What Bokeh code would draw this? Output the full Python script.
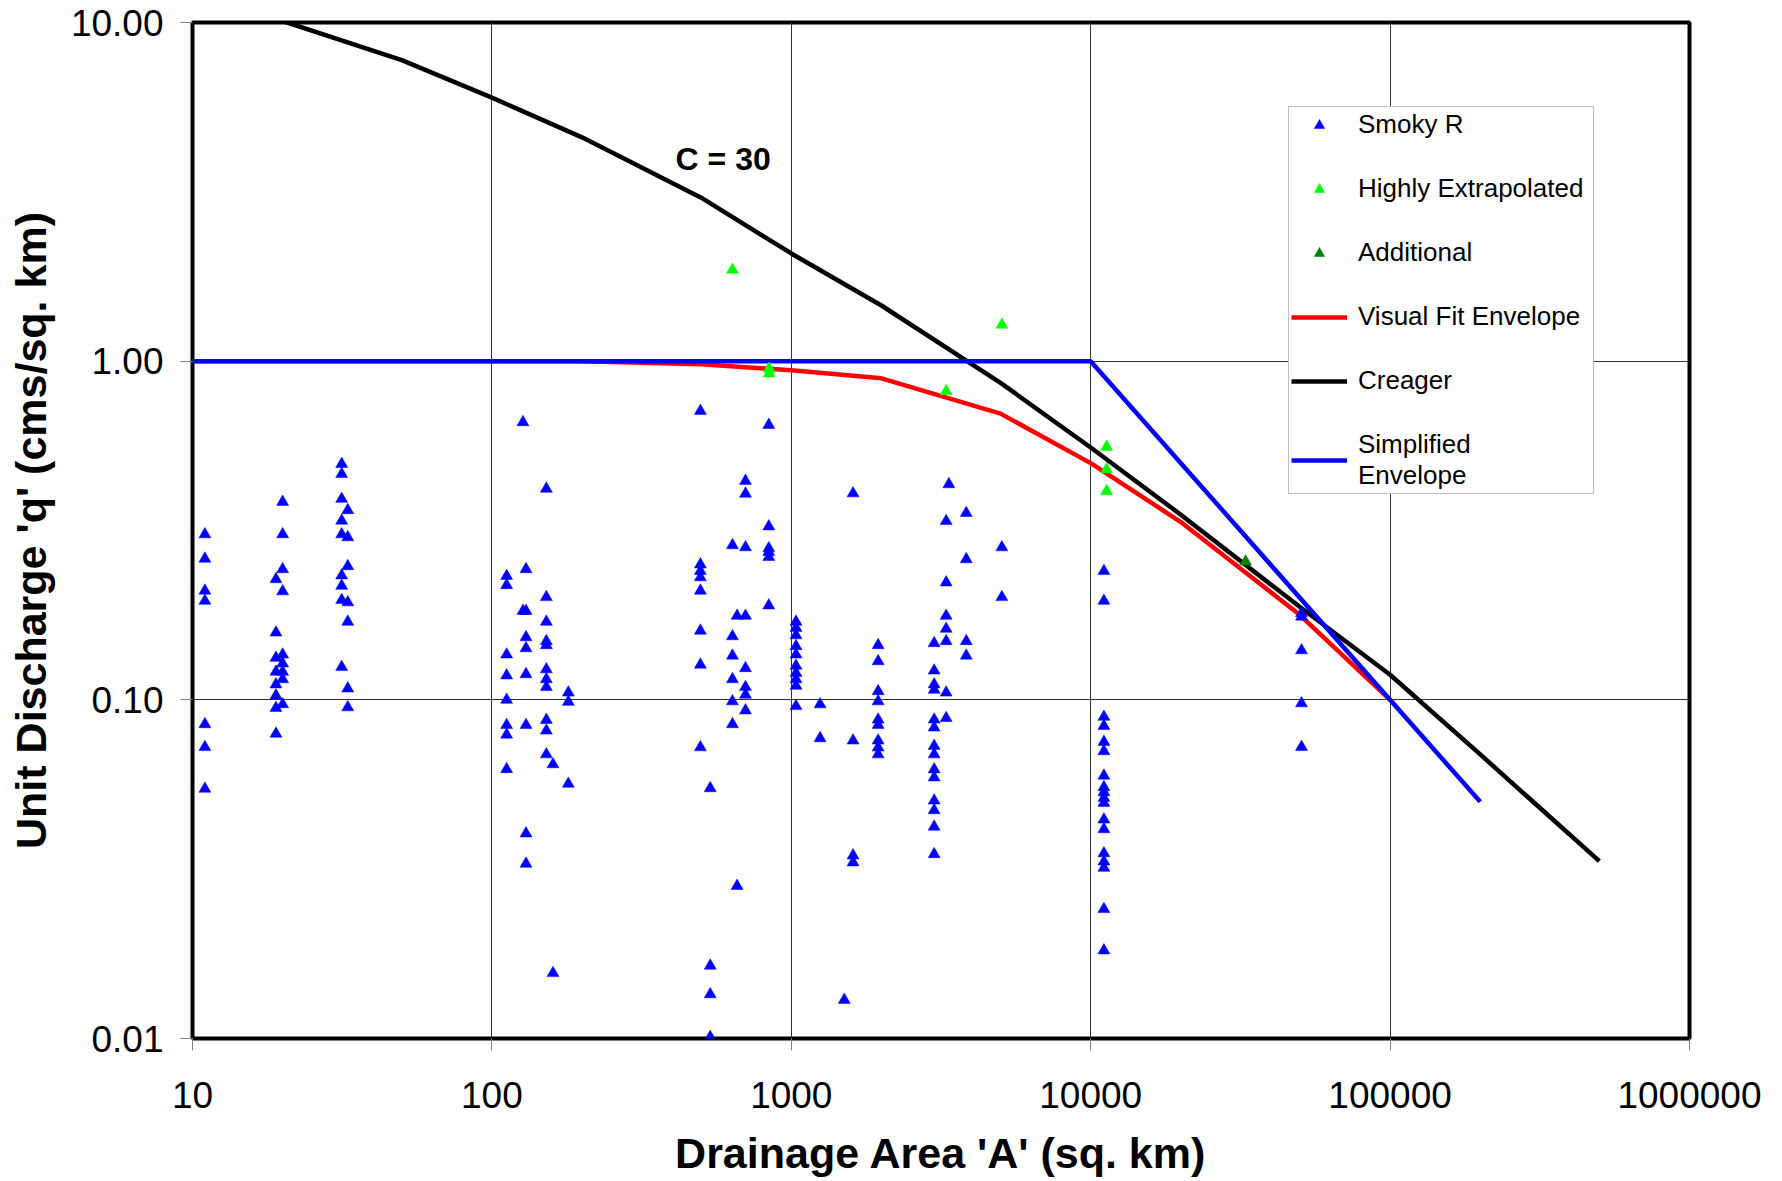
from bokeh.plotting import figure
from bokeh.models import Range1d, FixedTicker, PrintfTickFormatter, Legend, LegendItem, Label
from bokeh.embed import file_html
from bokeh.resources import INLINE

# ---------------- data ----------------
smoky_area = ([11] * 7 + [19] * 8 + [20] * 9 + [31.5] * 9 + [33] * 7 +
              [112] * 8 + [127] * 2 + [130] * 8 + [152] * 11 + [160] * 2 + [180] * 3 +
              [497] * 8 + [536] * 4 + [636] * 6 + [659] * 2 + [703] * 8 + [841] * 6 +
              [1037] * 10 + [1248] * 2 + [1503] * 1 + [1608] * 4 + [1950] * 9 +
              [3000] * 14 + [3290] * 7 + [3360] * 1 + [3840] * 4 + [5050] * 2 +
              [11070] * 18 + [50600] * 5)
smoky_q = [0.308, 0.261, 0.210, 0.196, 0.0847, 0.0725, 0.0546,
           0.227, 0.158, 0.133, 0.121, 0.111, 0.103, 0.0946, 0.0794,
           0.384, 0.308, 0.243, 0.209, 0.136, 0.128, 0.121, 0.115, 0.097,
           0.497, 0.464, 0.392, 0.338, 0.308, 0.233, 0.217, 0.197, 0.125,
           0.363, 0.302, 0.248, 0.194, 0.170, 0.108, 0.095,
           0.232, 0.218, 0.136, 0.118, 0.100, 0.0842, 0.0789, 0.0624,
           0.66, 0.183,
           0.243, 0.183, 0.153, 0.142, 0.119, 0.0842, 0.0403, 0.0328,
           0.42, 0.201, 0.170, 0.149, 0.145, 0.123, 0.115, 0.109, 0.0872, 0.0811, 0.069,
           0.0645, 0.0156,
           0.105, 0.0986, 0.0565,
           0.713, 0.251, 0.240, 0.230, 0.210, 0.160, 0.127, 0.0724,
           0.0548, 0.0164, 0.0135, 0.0101,
           0.286, 0.154, 0.135, 0.115, 0.099, 0.0847,
           0.177, 0.0282,
           0.443, 0.406, 0.282, 0.177, 0.124, 0.109, 0.1035, 0.093,
           0.648, 0.325, 0.280, 0.273, 0.264, 0.190,
           0.170, 0.163, 0.155, 0.144, 0.136, 0.126, 0.120, 0.115, 0.110, 0.0958,
           0.097, 0.077,
           0.0130,
           0.407, 0.0758, 0.0347, 0.0331,
           0.145, 0.130, 0.106, 0.099, 0.0874, 0.0843, 0.0758, 0.0723, 0.069,
           0.147, 0.122, 0.111, 0.107, 0.0874, 0.0828, 0.0731, 0.069, 0.0623, 0.059,
           0.0504, 0.0472, 0.0422, 0.035,
           0.337, 0.222, 0.177, 0.162, 0.149, 0.105, 0.0883,
           0.433,
           0.356, 0.260, 0.149, 0.135,
           0.282, 0.201,
           0.240, 0.196, 0.0891, 0.0837, 0.0751, 0.0705, 0.0597, 0.0552, 0.0533,
           0.0513, 0.0496, 0.0443, 0.0415, 0.0352, 0.0333, 0.0319, 0.0241, 0.0182,
           0.180, 0.176, 0.140, 0.0976, 0.0726]

extrap_area = [636, 843, 843, 3290, 5050, 11300, 11300, 11300]
extrap_q = [1.86, 0.95, 0.92, 0.815, 1.28, 0.558, 0.479, 0.413]

additional_area = [32900]
additional_q = [0.256]

visual_area = [10, 100, 200, 500, 1000, 2000, 5000, 10000, 20000, 50000, 100000]
visual_q = [1.0, 1.0, 1.0, 0.98, 0.94, 0.89, 0.70, 0.50, 0.335, 0.178, 0.10]

creager_area = [20, 50, 100, 200, 500, 1000, 2000, 5000, 10000, 20000, 50000,
                100000, 200000, 500000]
creager_q = [10.1, 7.74, 6.0, 4.58, 3.04, 2.08, 1.46, 0.863, 0.556, 0.352, 0.188,
             0.1186, 0.069, 0.0334]

simple_area = [10, 10000, 200000]
simple_q = [1.0, 1.0, 0.05]

x_ticks = [10, 100, 1000, 10000, 100000, 1000000]
y_ticks = [0.01, 0.1, 1, 10]

FONT = "Liberation Sans"

p = figure(width=1766, height=1179, x_axis_type="log", y_axis_type="log",
           x_range=Range1d(10, 1e6), y_range=Range1d(0.01, 10),
           output_backend="svg", toolbar_location=None,
           min_border_left=192, min_border_right=77, min_border_top=22,
           min_border_bottom=141, background_fill_color="white",
           border_fill_color="white")

p.outline_line_color = "black"
p.outline_line_width = 4

for ax in (p.xaxis[0], p.yaxis[0]):
    ax.axis_line_color = None
    ax.major_tick_line_color = "#808080"
    ax.major_tick_out = 12
    ax.major_tick_in = 0
    ax.minor_tick_line_color = None
    ax.major_label_text_font = FONT
    ax.major_label_text_font_size = "37px"
    ax.major_label_text_color = "black"
    ax.axis_label_text_font = FONT
    ax.axis_label_text_font_size = "43px"
    ax.axis_label_text_font_style = "bold"
    ax.axis_label_text_color = "black"

p.xaxis.ticker = FixedTicker(ticks=x_ticks)
p.yaxis.ticker = FixedTicker(ticks=y_ticks)
p.xaxis.formatter = PrintfTickFormatter(format="%d")
p.yaxis.formatter = PrintfTickFormatter(format="%.2f")
p.xaxis.major_label_standoff = 31
p.yaxis.major_label_standoff = 17
p.xaxis.axis_label = "Drainage Area 'A' (sq. km)"
p.yaxis.axis_label = "Unit Discharge 'q' (cms/sq. km)"
p.xaxis.axis_label_standoff = 18
p.yaxis.axis_label_standoff = 13

p.xgrid.ticker = FixedTicker(ticks=x_ticks)
p.ygrid.ticker = FixedTicker(ticks=y_ticks)
for g in (p.xgrid[0], p.ygrid[0]):
    g.grid_line_color = "#303030"
    g.grid_line_width = 1
    g.grid_line_alpha = 1

r_visual = p.line(visual_area, visual_q, line_color="#FF0000", line_width=4.5)
r_creager = p.line(creager_area, creager_q, line_color="black", line_width=4.5)
r_simple = p.line(simple_area, simple_q, line_color="#0000FF", line_width=4.5)

r_smoky = p.scatter(smoky_area, smoky_q, marker="triangle", size=12,
                    fill_color="#0000FF", line_color="#0000FF", line_width=0.5)
r_extrap = p.scatter(extrap_area, extrap_q, marker="triangle", size=12,
                     fill_color="#00FF00", line_color="#00FF00", line_width=0.5)
r_add = p.scatter(additional_area, additional_q, marker="triangle", size=12,
                  fill_color="#008000", line_color="#008000", line_width=0.5)

p.add_layout(Label(x=592, y=3.94, text="C = 30", text_font=FONT,
                   text_font_size="32px", text_font_style="bold",
                   text_align="center", text_baseline="middle", text_color="black"))

legend = Legend(items=[
    LegendItem(label="Smoky R", renderers=[r_smoky]),
    LegendItem(label="Highly Extrapolated", renderers=[r_extrap]),
    LegendItem(label="Additional", renderers=[r_add]),
    LegendItem(label="Visual Fit Envelope", renderers=[r_visual]),
    LegendItem(label="Creager", renderers=[r_creager]),
    LegendItem(label="Simplified\nEnvelope", renderers=[r_simple]),
], location=(1096, 544), label_text_font=FONT, label_text_font_size="26px",
    label_text_color="black", glyph_width=56, glyph_height=26, label_height=26,
    label_width=233, label_standoff=11, spacing=33, padding=2, margin=0,
    border_line_color="#808080", border_line_width=1,
    background_fill_color="white", background_fill_alpha=1)
p.add_layout(legend)

open("out.html", "w").write(file_html(p, INLINE))
